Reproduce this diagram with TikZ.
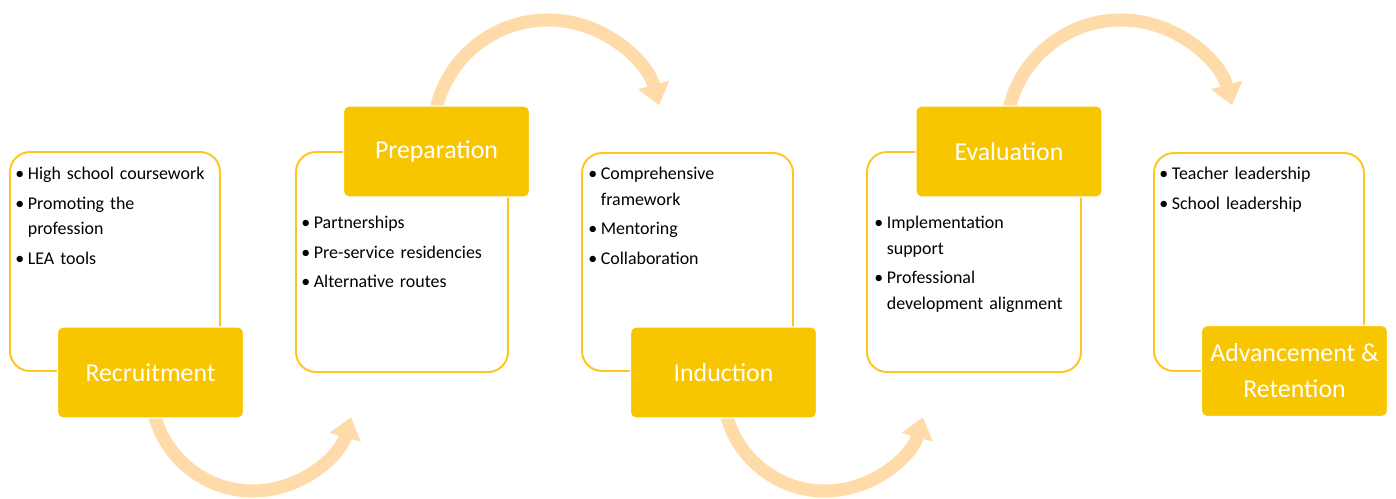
\documentclass[tikz,border=0pt]{standalone}
\usepackage{fontspec}
\setmainfont{Carlito}
\usetikzlibrary{arrows.meta}
\definecolor{guld}{RGB}{248,198,0}
\definecolor{kant}{RGB}{255,196,30}
\definecolor{pil}{RGB}{254,219,168}
\newcommand{\bitem}{\par\noindent\hangindent=0.25cm\hangafter=1\makebox[0.25cm][l]{\textbullet}}
\newcommand{\nl}{\hfil\break}
\tikzset{
  ramme/.style={draw=kant,line width=1.1pt,rounded corners=0.4cm},
  trin/.style={fill=guld,draw=white,line width=0.8pt,rounded corners=0.1cm,text=white,
    minimum width=3.72cm,minimum height=1.82cm,align=center,font=\fontsize{14.7pt}{20.4pt}\selectfont},
  punkt/.style={anchor=north west,inner sep=0pt,text width=5cm,
    font=\fontsize{10.2pt}{14.7pt}\selectfont,execute at begin node={\setlength{\parskip}{0.08cm}}},
  buen/.style={draw=pil,line width=0.26cm,-{Triangle[width=0.62cm,length=0.42cm]}}
}
\begin{document}
\begin{tikzpicture}[x=0.02cm,y=0.02cm]
\useasboundingbox (0,0) rectangle (1396,-499);
%rammer
\draw[ramme] (10,-152) rectangle (220,-371);
\draw[ramme] (296,-152) rectangle (508,-372);
\draw[ramme] (582,-153) rectangle (793,-371);
\draw[ramme] (867,-152) rectangle (1081,-372);
\draw[ramme] (1154,-153) rectangle (1364,-371);
%buer
\coordinate (c1) at (253,-389);
\coordinate (c2) at (548,-135);
\coordinate (c3) at (825,-389);
\coordinate (c4) at (1121,-135);
\draw[buen] (c1) ++(190:102) arc[start angle=190,end angle=344,radius=102];
\draw[buen] (c2) ++(168:115) arc[start angle=168,end angle=15,radius=115];
\draw[buen] (c3) ++(190:102) arc[start angle=190,end angle=344,radius=102];
\draw[buen] (c4) ++(168:115) arc[start angle=168,end angle=15,radius=115];
%trin
\node[trin] (rek) at (150.5,-372.5) {Recruitment};
\node[trin] (prep) at (436.5,-151.5) {Preparation};
\node[trin] (ind) at (723.5,-372.5) {Induction};
\node[trin] (eval) at (1009,-151.5) {Evaluation};
\node[trin] (adv) at (1294.5,-371) {Advancement \&\\Retention};
%punkter
\node[punkt] (p1) at (15,-149) {\bitem High school coursework
  \bitem Promoting the\nl profession \bitem LEA tools\par};
\node[punkt] (p2) at (301,-198) {\bitem Partnerships
  \bitem Pre-service residencies \bitem Alternative routes\par};
\node[punkt] (p3) at (588,-149) {\bitem Comprehensive\nl framework
  \bitem Mentoring \bitem Collaboration\par};
\node[punkt] (p4) at (874,-198) {\bitem Implementation\nl support
  \bitem Professional\nl development alignment\par};
\node[punkt] (p5) at (1159,-149) {\bitem Teacher leadership \bitem School leadership\par};
\end{tikzpicture}
\end{document}
